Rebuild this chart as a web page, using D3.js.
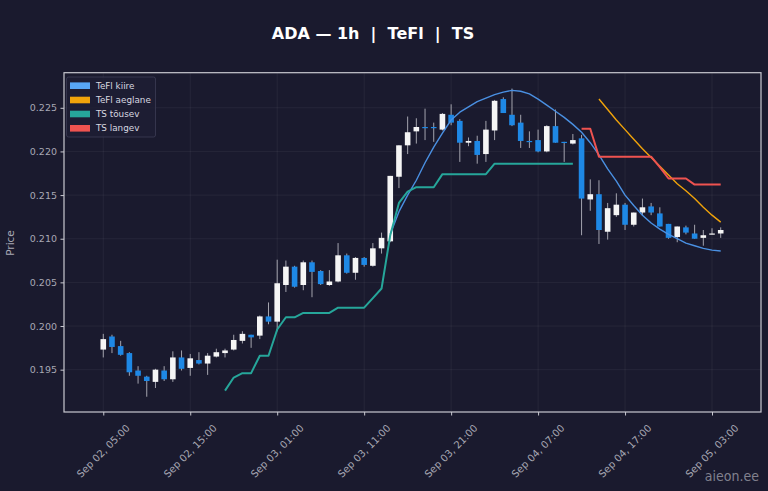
<!DOCTYPE html>
<html><head><meta charset="utf-8">
<script src="https://cdn.jsdelivr.net/npm/d3@7"></script>
<style>
html,body{margin:0;padding:0;background:#1a1a2e;}
svg{display:block;font-family:"DejaVu Sans",sans-serif;}
</style></head>
<body><svg id="chart" width="768" height="491"></svg>
<script>
// ---------- data ----------
const startTime = "2025-09-02T05:00:00";
const openV  = [0.1973,0.1988,0.1977,0.1969,0.1949,0.1942,0.1936,0.1949,0.1939,0.1964,0.1952,0.1961,0.1957,0.1965,0.1969,0.1973,0.1983,0.1990,0.1989,0.2011,
  0.2005,0.2047,0.2068,0.2047,0.2073,0.2063,0.2047,0.2051,0.2081,0.2061,0.2078,0.2069,0.2089,0.2097,0.2171,0.2207,0.2223,0.2228,0.2228,0.2225,
  0.2242,0.2235,0.2210,0.2212,0.2197,0.2224,0.2260,0.2242,0.2233,0.2212,0.2213,0.2200,0.2229,0.2211,0.2209,0.2215,0.2145,0.2151,0.2108,0.2127,
  0.2139,0.2116,0.2130,0.2137,0.2129,0.2117,0.2102,0.2113,0.2106,0.2101,0.2105,0.2106];
const highV  = [0.1991,0.1990,0.1983,0.1970,0.1954,0.1943,0.1951,0.1954,0.1971,0.1972,0.1968,0.1970,0.1969,0.1974,0.1974,0.1990,0.1994,0.1990,0.2012,0.2027,
  0.2076,0.2075,0.2069,0.2075,0.2075,0.2064,0.2064,0.2095,0.2083,0.2079,0.2079,0.2095,0.2107,0.2172,0.2207,0.2240,0.2238,0.2249,0.2233,0.2244,
  0.2254,0.2237,0.2216,0.2218,0.2235,0.2259,0.2262,0.2272,0.2242,0.2223,0.2225,0.2230,0.2248,0.2211,0.2220,0.2219,0.2168,0.2167,0.2141,0.2152,
  0.2141,0.2130,0.2146,0.2141,0.2136,0.2117,0.2114,0.2115,0.2116,0.2110,0.2112,0.2113];
const lowV   = [0.1964,0.1969,0.1966,0.1943,0.1934,0.1919,0.1929,0.1937,0.1936,0.1949,0.1943,0.1956,0.1944,0.1964,0.1964,0.1972,0.1980,0.1975,0.1985,0.2002,
  0.1994,0.2039,0.2044,0.2041,0.2033,0.2047,0.2046,0.2050,0.2060,0.2053,0.2068,0.2068,0.2083,0.2096,0.2158,0.2197,0.2209,0.2213,0.2211,0.2224,
  0.2230,0.2188,0.2206,0.2186,0.2188,0.2213,0.2244,0.2229,0.2204,0.2204,0.2199,0.2199,0.2210,0.2188,0.2208,0.2104,0.2132,0.2094,0.2099,0.2125,
  0.2110,0.2114,0.2127,0.2127,0.2114,0.2100,0.2096,0.2105,0.2100,0.2092,0.2105,0.2101];
const closeV = [0.1985,0.1976,0.1967,0.1947,0.1943,0.1937,0.1950,0.1939,0.1964,0.1951,0.1963,0.1957,0.1966,0.1970,0.1972,0.1984,0.1991,0.1987,0.2011,0.2005,
  0.2049,0.2068,0.2045,0.2073,0.2062,0.2048,0.2051,0.2081,0.2061,0.2078,0.2070,0.2089,0.2101,0.2172,0.2207,0.2222,0.2228,0.2227,0.2227,0.2243,
  0.2233,0.2210,0.2212,0.2196,0.2225,0.2258,0.2244,0.2230,0.2212,0.2211,0.2200,0.2229,0.2210,0.2210,0.2213,0.2146,0.2151,0.2110,0.2135,0.2139,
  0.2116,0.2130,0.2136,0.2130,0.2114,0.2101,0.2114,0.2107,0.2100,0.2104,0.2106,0.2110];
const _ = null;
const tefiFast = [_,_,_,_,_,_,_,_,_,_,_,_,_,_,_,_,_,_,_,_,_,_,_,_,_,_,_,_,_,_,_,_,_,
  0.2105,0.2131,0.2150,0.2167,0.2187,0.2205,0.2221,0.2236,0.2245,0.2251,0.2257,0.2261,0.2265,0.2268,0.2270,0.2269,0.2266,0.2260,0.2253,0.2246,0.2239,0.2231,
  0.2222,0.2210,0.2196,0.2180,0.2166,0.2150,0.2138,0.2127,0.2118,0.2111,0.2105,0.2100,0.2095,0.2092,0.2089,0.2087,0.2086];
const tefiSlow = [_,_,_,_,_,_,_,_,_,_,_,_,_,_,_,_,_,_,_,_,_,_,_,_,_,_,_,_,_,_,_,_,_,_,_,_,_,_,_,_,_,_,_,_,_,_,_,_,_,_,_,_,_,_,_,_,_,
  0.2260,0.2248,0.2236,0.2225,0.2214,0.2203,0.2193,0.2183,0.2173,0.2163,0.2155,0.2146,0.2136,0.2127,0.2119];
const tsUp = [_,_,_,_,_,_,_,_,_,_,_,_,_,_,
  0.1926,0.1941,0.1946,0.1946,0.1966,0.1966,0.1996,0.2010,0.2010,0.2015,0.2015,0.2015,0.2015,0.2021,0.2021,0.2021,0.2021,0.2032,0.2043,0.2104,
  0.2141,0.2154,0.2159,0.2159,0.2159,0.2174,0.2174,0.2174,0.2174,0.2174,0.2174,0.2186,0.2186,0.2186,0.2186,0.2186,0.2186,0.2186,0.2186,0.2186,0.2186,
  _,_,_,_,_,_,_,_,_,_,_,_,_,_,_,_,_];
const tsDown = [_,_,_,_,_,_,_,_,_,_,_,_,_,_,_,_,_,_,_,_,_,_,_,_,_,_,_,_,_,_,_,_,_,_,_,_,_,_,_,_,_,_,_,_,_,_,_,_,_,_,_,_,_,_,_,
  0.2226,0.2226,0.2194,0.2194,0.2194,0.2194,0.2194,0.2194,0.2194,0.2182,0.2169,0.2169,0.2169,0.2162,0.2162,0.2162,0.2162];
const yTicks = [0.195,0.200,0.205,0.210,0.215,0.220,0.225];
const xTickTimes = ["2025-09-02T05:00:00","2025-09-02T15:00:00","2025-09-03T01:00:00","2025-09-03T11:00:00",
  "2025-09-03T21:00:00","2025-09-04T07:00:00","2025-09-04T17:00:00","2025-09-05T03:00:00"];
const seriesNames = ["TeFl kiire","TeFl aeglane","TS tõusev","TS langev"];
const seriesColors = ["#4a90e2","#f0a30a","#26a69a","#ef5350"];

// ---------- layout ----------
const svg = d3.select("#chart");
const L = 64, R = 761, T = 72.7, B = 412;
const t0 = new Date(startTime);
const times = openV.map((d,i)=>d3.timeHour.offset(t0,i));
const x = d3.scaleTime()
  .domain([d3.timeMinute.offset(times[0],-271), d3.timeMinute.offset(times[times.length-1],278)])
  .range([L,R]);
const y = d3.scaleLinear().domain([0.19015,0.22902]).range([B,T]);

svg.append("rect").attr("width",768).attr("height",491).attr("fill","#1a1a2e");

// grid
const xt = xTickTimes.map(s=>new Date(s));
svg.append("g").selectAll("line").data(xt).join("line")
  .attr("x1",d=>x(d)).attr("x2",d=>x(d)).attr("y1",T).attr("y2",B)
  .attr("stroke","#ffffff").attr("stroke-opacity",0.07).attr("stroke-width",0.8);
svg.append("g").selectAll("line").data(yTicks).join("line")
  .attr("x1",L).attr("x2",R).attr("y1",d=>y(d)).attr("y2",d=>y(d))
  .attr("stroke","#ffffff").attr("stroke-opacity",0.07).attr("stroke-width",0.8);

// candles
const bw = 5.6;
const cg = svg.append("g");
cg.selectAll("line").data(times).join("line")
  .attr("x1",(d)=>x(d)).attr("x2",d=>x(d))
  .attr("y1",(d,i)=>y(highV[i])).attr("y2",(d,i)=>y(lowV[i]))
  .attr("stroke","#a4a4ae").attr("stroke-width",1);
cg.selectAll("rect").data(times).join("rect")
  .attr("x",d=>x(d)-bw/2).attr("width",bw)
  .attr("y",(d,i)=>y(Math.max(openV[i],closeV[i])))
  .attr("height",(d,i)=>Math.max(1.2,Math.abs(y(openV[i])-y(closeV[i]))))
  .attr("fill",(d,i)=>closeV[i]>=openV[i]?"#f5f5f5":"#1e88e5");

// lines
const line = d3.line().defined(d=>d[1]!==null).x(d=>x(d[0])).y(d=>y(d[1]));
const lineSeries = [tefiFast,tefiSlow,tsUp,tsDown];
const widths = [1.4,1.4,2,2];
lineSeries.forEach((s,k)=>{
  svg.append("path").datum(times.map((t,i)=>[t,s[i]]))
    .attr("d",line).attr("fill","none").attr("stroke",seriesColors[k])
    .attr("stroke-width",widths[k]).attr("stroke-linejoin","round");
});

// frame
svg.append("rect").attr("x",L).attr("y",T).attr("width",R-L).attr("height",B-T)
  .attr("fill","none").attr("stroke","#c8c8d0").attr("stroke-width",1.2);

// axes
const xAxis = svg.append("g").attr("transform",`translate(0,${B})`)
  .call(d3.axisBottom(x).tickValues(xt).tickSize(3.5).tickFormat(""));
xAxis.select(".domain").remove();
xAxis.selectAll("line").attr("stroke","#c8c8d0");
svg.append("g").selectAll("text").data(xt).join("text")
  .attr("transform",d=>`translate(${x(d)},451) rotate(-45)`)
  .attr("text-anchor","middle").attr("dominant-baseline","central")
  .attr("fill","#a8a8b4").attr("font-size","10px")
  .text(d3.timeFormat("%b %d, %H:%M"));

const yAxis = svg.append("g").attr("transform",`translate(${L},0)`)
  .call(d3.axisLeft(y).tickValues(yTicks).tickSize(3.5).tickPadding(3.5).tickFormat(d3.format(".3f")));
yAxis.select(".domain").remove();
yAxis.selectAll("line").attr("stroke","#c8c8d0");
yAxis.selectAll("text").attr("fill","#a8a8b4").attr("font-size","9.5px").attr("font-family","DejaVu Sans");

svg.append("text").attr("transform","translate(14,243) rotate(-90)")
  .attr("text-anchor","middle").attr("fill","#a8a8b4").attr("font-size","10.5px").text("Price");

// title
svg.append("text").attr("x",373).attr("y",39).attr("text-anchor","middle")
  .attr("fill","#ffffff").attr("font-weight","bold").attr("font-size","16px")
  .style("white-space","pre").text("ADA — 1h  |  TeFl  |  TS");

// legend
const lg = svg.append("g");
lg.append("rect").attr("x",66.5).attr("y",77).attr("width",89).attr("height",60).attr("rx",2)
  .attr("fill","#1e1e34").attr("fill-opacity",0.85).attr("stroke","#3c3c55").attr("stroke-width",0.8);
const rowY = [85.7,100,114,128.3];
seriesNames.forEach((n,k)=>{
  lg.append("rect").attr("x",70).attr("y",rowY[k]-3.3).attr("width",20).attr("height",6.6)
    .attr("fill",seriesColors[k]==="#4a90e2"?"#58a6f5":seriesColors[k]);
  lg.append("text").attr("x",96).attr("y",rowY[k]).attr("dominant-baseline","central")
    .attr("fill","#d8d8e0").attr("font-size","8.8px").text(n);
});

// watermark
svg.append("text").attr("x",759).attr("y",481).attr("text-anchor","end")
  .attr("fill","#c8c8d0").attr("fill-opacity",0.6).attr("font-size","14px")
  .attr("font-family","Liberation Sans Narrow, DejaVu Sans Condensed, sans-serif").text("aieon.ee");
</script></body></html>
